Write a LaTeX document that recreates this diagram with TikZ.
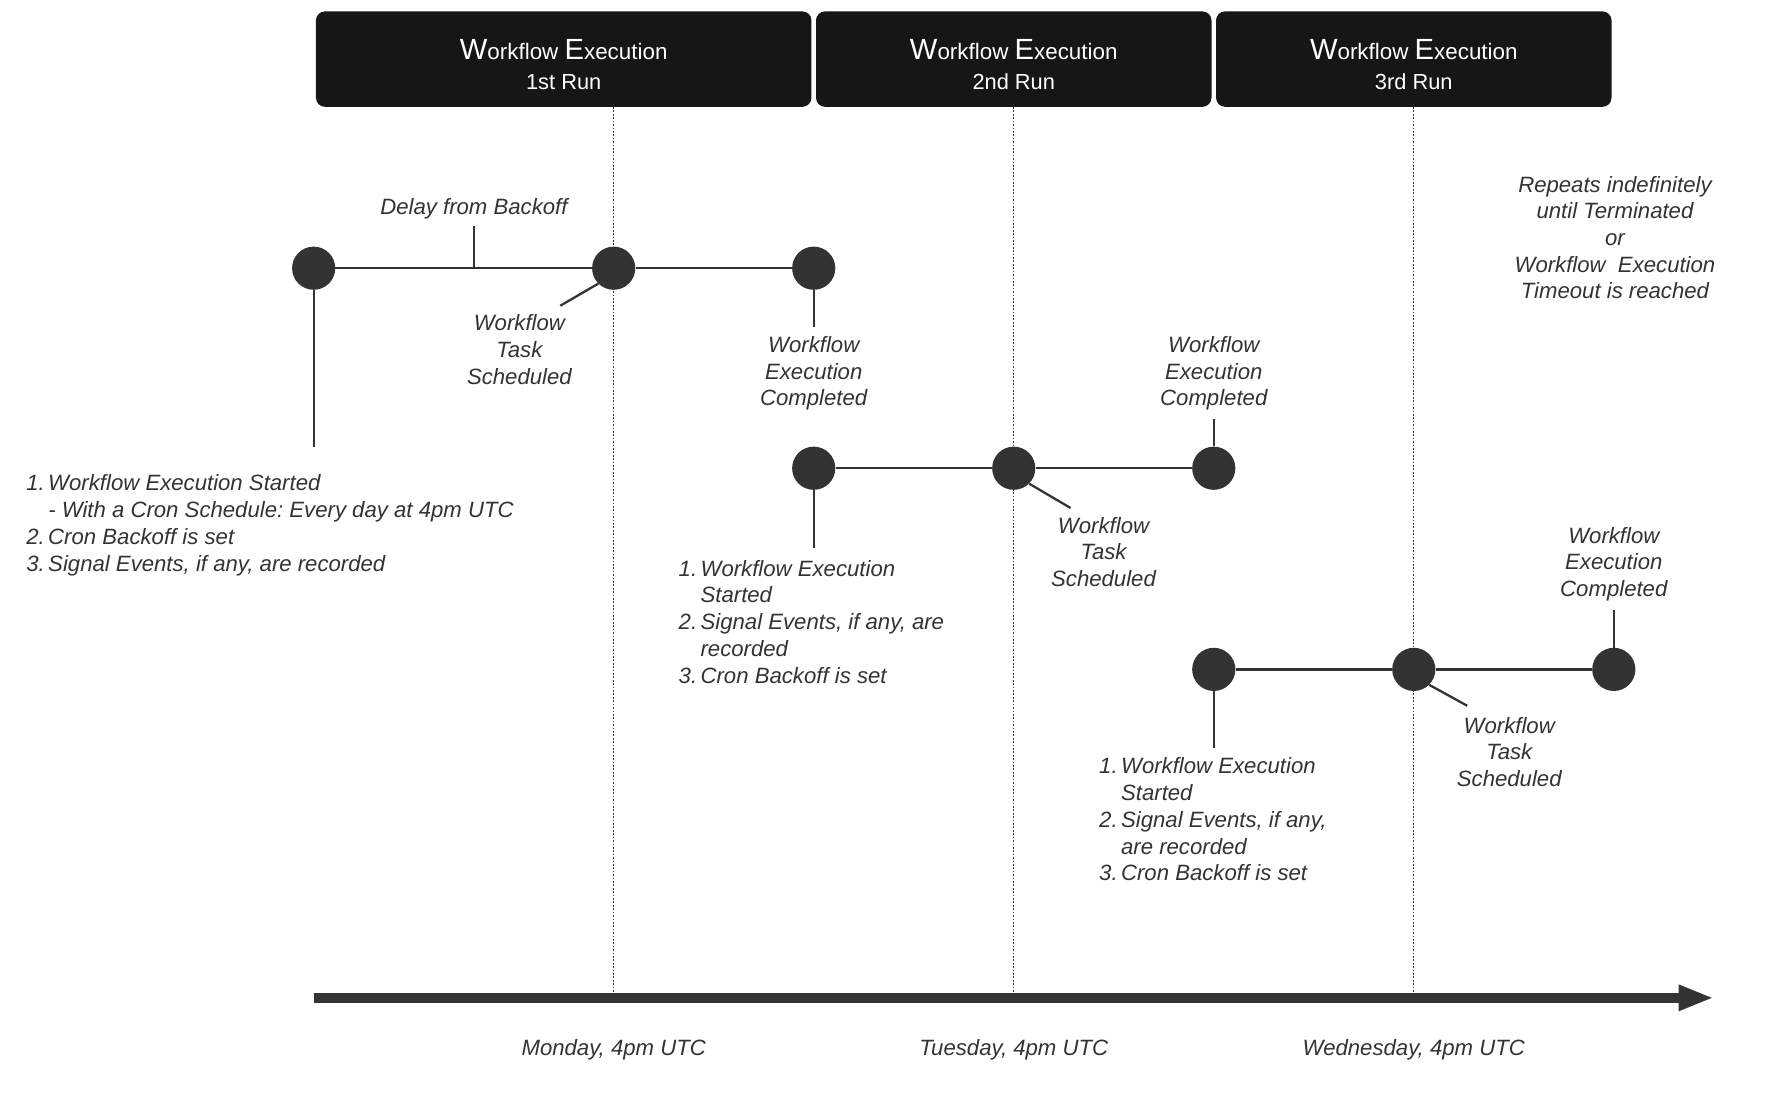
\documentclass[tikz,border=0pt]{standalone}
\usepackage{fontspec}
\setmainfont{Liberation Sans}
\usetikzlibrary{arrows.meta}
\frenchspacing
\definecolor{runblack}{HTML}{161616}
\definecolor{ink}{HTML}{333333}
\newcommand{\notelines}[1]{\begin{tabular}[t]{@{}c@{}}#1\end{tabular}}
\newcommand{\steplist}[1]{\begin{tabular}[t]{@{}l@{\hspace{3pt}}l@{}}#1\end{tabular}}
\newcommand{\runtitle}{{\fontsize{25.7}{30}\selectfont W}orkflow {\fontsize{25.7}{30}\selectfont E}xecution}
\tikzset{
  event/.style={circle, fill=ink, minimum size=38pt, inner sep=0pt},
  link/.style={ink, line width=2pt},
  guide/.style={ink, line width=1pt, dash pattern=on 1.5pt off 1.5pt},
  note/.style={text=ink, font=\fontsize{19.5}{23.5}\selectfont\itshape, inner sep=0pt, anchor=base},
  runbox/.style={fill=runblack, rounded corners=8pt, minimum height=84pt, inner sep=0pt},
  runtext/.style={text=white, font=\fontsize{19.7}{24}\selectfont, inner sep=0pt, anchor=base},
  runsub/.style={runtext, font=\fontsize{19.2}{23}\selectfont},
}
\begin{document}
\begin{tikzpicture}[x=1pt,y=-1pt]
\useasboundingbox (0,0) rectangle (1568,979.3);
%
% runs
\node[runbox, minimum width=436pt] (run1) at (496,52) {};
\node[runbox, minimum width=348pt] (run2) at (892,52) {};
\node[runbox, minimum width=348pt] (run3) at (1244,52) {};
\node[runtext] (run1title) at (496,52.6) {\runtitle};
\node[runsub] (run1sub) at (496,79) {1st Run};
\node[runtext] (run2title) at (892,52.6) {\runtitle};
\node[runsub] (run2sub) at (892,79) {2nd Run};
\node[runtext] (run3title) at (1244,52.6) {\runtitle};
\node[runsub] (run3sub) at (1244,79) {3rd Run};
%
% time axis
\coordinate (t0) at (276,878);
\coordinate (tend) at (1508,878);
\coordinate (mon) at (540,878);
\coordinate (tue) at (892,878);
\coordinate (wed) at (1244,878);
\draw[guide] (mon |- run1.south) -- ([yshift=4.5pt]mon);
\draw[guide] (tue |- run2.south) -- ([yshift=4.5pt]tue);
\draw[guide] (wed |- run3.south) -- ([yshift=4.5pt]wed);
\draw[ink, line width=9pt, -{Triangle[length=31pt,width=21pt]}] (t0) -- (tend);
\node[note] (montext) at (540,929) {Monday, 4pm UTC};
\node[note] (tuetext) at (892,929) {Tuesday, 4pm UTC};
\node[note] (wedtext) at (1244,929) {Wednesday, 4pm UTC};
%
% 1st run
\node[event] (start1) at (276,236) {};
\node[event] (task1) at (540,236) {};
\node[event] (done1) at (716,236) {};
\draw[link] (start1) -- (task1) -- (done1);
\coordinate (delay) at (417,236);
\coordinate (delayend) at (417,199);
\draw[link] (delay) -- (delayend);
\node[note] (delaytext) at (417,189) {Delay from Backoff};
\coordinate (start1end) at (276,393);
\draw[link] (start1) -- (start1end);
\node[note, anchor=base west] (start1text) at (23,432) {\steplist{1. & Workflow Execution Started\\
  & - With a Cron Schedule: Every day at 4pm UTC\\
  2. & Cron Backoff is set\\
  3. & Signal Events, if any, are recorded}};
\coordinate (task1end) at (493,269);
\draw[link] (task1.-135) -- (task1end);
\node[note] (task1text) at (457,291) {\notelines{Workflow\\Task\\Scheduled}};
\coordinate (done1end) at (716,288);
\draw[link] (done1) -- (done1end);
\node[note] (done1text) at (716,310) {\notelines{Workflow\\Execution\\Completed}};
%
% 2nd run
\node[event] (start2) at (716,412) {};
\node[event] (task2) at (892,412) {};
\node[event] (done2) at (1068,412) {};
\draw[link] (start2) -- (task2) -- (done2);
\coordinate (start2end) at (716,482);
\draw[link] (start2) -- (start2end);
\node[note, anchor=base west] (start2text) at (597,507) {\steplist{1. & Workflow Execution\\
  & Started\\
  2. & Signal Events, if any, are\\
  & recorded\\
  3. & Cron Backoff is set}};
\coordinate (task2end) at (942,447);
\draw[link] (task2.-45) -- (task2end);
\node[note] (task2text) at (971,469) {\notelines{Workflow\\Task\\Scheduled}};
\coordinate (done2end) at (1068,369);
\draw[link] (done2) -- (done2end);
\node[note] (done2text) at (1068,310) {\notelines{Workflow\\Execution\\Completed}};
%
% 3rd run
\node[event] (start3) at (1068,589) {};
\node[event] (task3) at (1244,589) {};
\node[event] (done3) at (1420,589) {};
\draw[link] (start3) -- (task3) -- (done3);
\coordinate (start3end) at (1068,658);
\draw[link] (start3) -- (start3end);
\node[note, anchor=base west] (start3text) at (967,681) {\steplist{1. & Workflow Execution\\
  & Started\\
  2. & Signal Events, if any,\\
  & are recorded\\
  3. & Cron Backoff is set}};
\coordinate (task3end) at (1291,621);
\draw[link] (task3.-45) -- (task3end);
\node[note] (task3text) at (1328,645) {\notelines{Workflow\\Task\\Scheduled}};
\coordinate (done3end) at (1420,537);
\draw[link] (done3) -- (done3end);
\node[note] (done3text) at (1420,478) {\notelines{Workflow\\Execution\\Completed}};
%
\node[note] (repeats) at (1421,169) {\notelines{Repeats indefinitely\\until Terminated\\or\\Workflow\ \ Execution\\Timeout is reached}};
%
\end{tikzpicture}
\end{document}
